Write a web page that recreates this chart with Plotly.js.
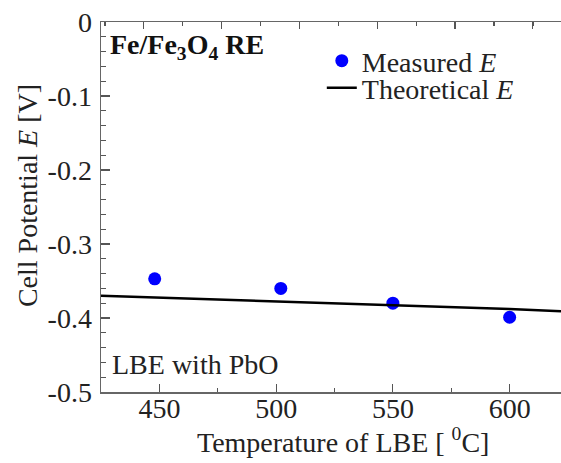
<!DOCTYPE html>
<html>
<head>
<meta charset="utf-8">
<script src="https://cdn.plot.ly/plotly-3.0.1.min.js"></script>
<style>html,body{margin:0;padding:0;background:#fff;}#chart{width:561px;height:463px;}</style>
</head>
<body>
<div id="chart"></div>
<script>
// Measured cell potential (blue dots)
const measuredT = [448, 502, 550, 600];
const measuredE = [-0.347, -0.360, -0.380, -0.399];
// Theoretical cell potential (black line)
const theoryT = [425, 450, 475, 500, 525, 550, 575, 600, 622];
const theoryE = [-0.370, -0.3725, -0.375, -0.378, -0.380, -0.3825, -0.385, -0.388, -0.391];
const xTicks = [450, 500, 550, 600];
const yTicks = [0, -0.1, -0.2, -0.3, -0.4, -0.5];
const yTickText = ['0', '-0.1', '-0.2', '-0.3', '-0.4', '-0.5'];
const xTitle = 'Temperature of LBE [ <sup>0</sup>C]';
const yTitle = 'Cell Potential <i>E</i> [V]';

const serif = 'Liberation Serif, Times New Roman, serif';
const FS = 28;

const traces = [
  {x: measuredT, y: measuredE, mode: 'markers', name: 'Measured <i>E</i>',
   marker: {color: '#0000ff', size: 13}, legend: 'legend'},
  {x: theoryT, y: theoryE, mode: 'lines', name: 'Theoretical <i>E</i>',
   line: {color: '#000000', width: 2.5}, legend: 'legend2'},
  {x: [null], y: [null], xaxis: 'x2', showlegend: false, hoverinfo: 'skip'}
];

const legFont = {family: serif, size: FS, color: '#222'};

const layout = {
  width: 561, height: 463,
  margin: {l: 101, r: 0, t: 22, b: 71},
  paper_bgcolor: '#fff', plot_bgcolor: '#fff',
  font: {family: serif, color: '#222', size: FS},
  showlegend: true,
  legend: {x: 0.48, y: 0.8946, xanchor: 'left', yanchor: 'middle', bgcolor: 'rgba(0,0,0,0)',
           font: legFont, itemwidth: 30},
  legend2: {x: 0.48, y: 0.8216, xanchor: 'left', yanchor: 'middle', bgcolor: 'rgba(0,0,0,0)',
           font: legFont, itemwidth: 30},
  xaxis: {
    range: [425, 622], tickvals: xTicks, ticktext: xTicks.map(String),
    ticks: 'inside', ticklen: 8, tickwidth: 1.2, tickcolor: '#555',
    minor: {dtick: 25, tick0: 425, ticks: 'inside', ticklen: 4, tickcolor: '#555'},
    showline: true, linecolor: '#666', linewidth: 1.5, showgrid: false, zeroline: false,
    tickfont: {family: serif, size: FS, color: '#222'}, ticklabelstandoff: -9
  },
  xaxis2: {
    overlaying: 'x', side: 'top', range: [425, 622], tick0: 443.3, dtick: 33.33,
    ticks: 'inside', ticklen: 7, tickwidth: 1.2, tickcolor: '#555', showticklabels: false,
    minor: {dtick: 16.667, tick0: 426.67, ticks: 'inside', ticklen: 4, tickcolor: '#555'},
    showline: true, linecolor: '#666', linewidth: 1.5, showgrid: false, zeroline: false
  },
  yaxis: {
    range: [-0.5, 0], tickvals: yTicks, ticktext: yTickText,
    ticks: 'inside', ticklen: 9, tickwidth: 1.2, tickcolor: '#555',
    minor: {dtick: 0.02, tick0: 0, ticks: 'inside', ticklen: 5, tickcolor: '#555'},
    showline: true, linecolor: '#666', linewidth: 1.5, showgrid: false, zeroline: false,
    tickfont: {family: serif, size: FS, color: '#222'}, ticklabelstandoff: 2
  },
  annotations: [
    {text: xTitle, xref: 'paper', yref: 'paper', x: 0.525, y: -0.13,
     xanchor: 'center', yanchor: 'middle', showarrow: false, font: {family: serif, size: FS, color: '#222'}},
    {text: yTitle, xref: 'paper', yref: 'paper', x: -0.161, y: 0.532, textangle: -90,
     xanchor: 'center', yanchor: 'middle', showarrow: false, font: {family: serif, size: FS, color: '#222'}},
    {text: '<b>Fe/Fe<sub>3</sub>O<sub>4</sub> RE</b>', xref: 'paper', yref: 'paper', x: 0.015, y: 0.935,
     xanchor: 'left', yanchor: 'middle', showarrow: false, font: {family: serif, size: FS, color: '#111'}},
    {text: 'LBE with PbO', xref: 'paper', yref: 'paper', x: 0.02, y: 0.075,
     xanchor: 'left', yanchor: 'middle', showarrow: false, font: {family: serif, size: FS, color: '#222'}}
  ]
};

Plotly.newPlot('chart', traces, layout, {staticPlot: true, displayModeBar: false});
</script>
</body>
</html>
